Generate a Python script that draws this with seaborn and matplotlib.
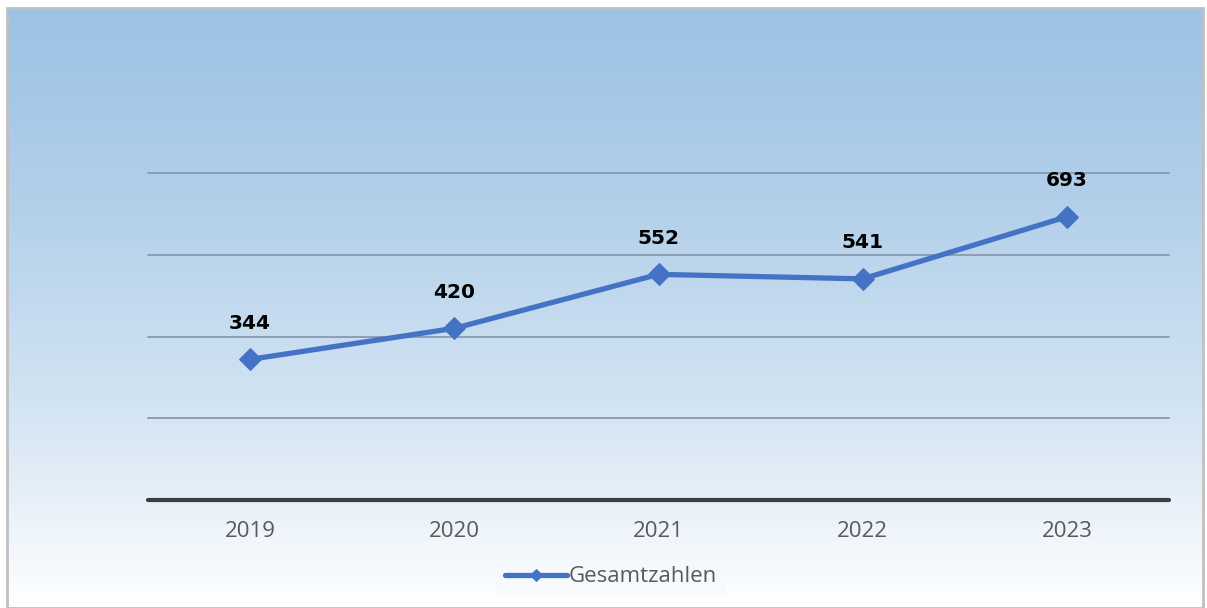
import numpy as np
import pandas as pd
import matplotlib
matplotlib.use("Agg")
import matplotlib.pyplot as plt
from matplotlib.colors import LinearSegmentedColormap
from matplotlib.patches import Rectangle
import seaborn as sns

years = ["2019", "2020", "2021", "2022", "2023"]
totals = [344, 420, 552, 541, 693]
series_name = "Gesamtzahlen"

df = pd.DataFrame({"Jahr": years, series_name: totals})

sns.set_theme(style="white")
plt.rcParams["font.family"] = ["Open Sans", "DejaVu Sans"]

W, H, DPI = 1207, 608, 100
fig = plt.figure(figsize=(W / DPI, H / DPI), dpi=DPI)
fig.patch.set_facecolor("white")

# Background panel with vertical blue-to-white gradient
bg = fig.add_axes([7 / W, 0, (1203 - 7) / W, (H - 8) / H])
grad = LinearSegmentedColormap.from_list(
    "bg", ["#9cc2e5", "#b3d0ea", "#d3e4f3", "#ffffff"])
bg.imshow(np.linspace(0, 1, 256).reshape(-1, 1), aspect="auto", cmap=grad,
          extent=[0, 1, 0, 1], origin="upper")
bg.set_xlim(0, 1)
bg.set_ylim(0, 1)
bg.axis("off")
bg.add_patch(Rectangle((0, 0), 1, 1, transform=bg.transAxes, fill=False,
                       edgecolor="#c0c0c0", linewidth=2, clip_on=False))

# Plot area
left, right, top, bottom = 148, 1169, 173, 500
ax = fig.add_axes([left / W, 1 - bottom / H, (right - left) / W, (bottom - top) / H])
ax.set_facecolor("none")

line_color = "#4472c4"
sns.lineplot(data=df, x="Jahr", y=series_name, ax=ax, color=line_color,
             linewidth=3.8, marker="D", markersize=11, markeredgecolor=line_color,
             label=series_name, sort=False)

ax.set_ylim(0, 800)
ax.set_xlim(-0.5, len(years) - 0.5)
ax.set_yticks([200, 400, 600, 800])
ax.yaxis.grid(True, color="#8c9fb4", linewidth=1.4)
for gl in ax.get_ygridlines():
    gl.set_clip_on(False)
ax.set_axisbelow(True)
ax.tick_params(axis="y", left=False, labelleft=False)
ax.tick_params(axis="x", bottom=False, labelsize=16, labelcolor="#595959", pad=9)
ax.set_xlabel("")
ax.set_ylabel("")
for s in ["top", "left", "right"]:
    ax.spines[s].set_visible(False)
ax.spines["bottom"].set_color("#3a3f46")
ax.spines["bottom"].set_linewidth(3)
ax.spines["bottom"].set_capstyle("round")

for i, v in enumerate(totals):
    ax.annotate(str(v), (i, v), xytext=(0, 19), textcoords="offset points",
                ha="center", va="bottom", fontsize=14.5, fontweight="bold",
                color="black", family="DejaVu Sans")

leg = ax.legend(loc="center", bbox_to_anchor=((611 - left) / (right - left),
                                             (500 - 577) / (bottom - top)),
                frameon=True, fontsize=16, handlelength=2.8, handletextpad=0.05,
                borderpad=0.4, fancybox=False, markerscale=0.6)
leg.get_frame().set_facecolor("#f6f9fd")
leg.get_frame().set_edgecolor("none")
leg.get_frame().set_alpha(0.7)
for t in leg.get_texts():
    t.set_color("#595959")

fig.savefig("out.png", dpi=DPI)
